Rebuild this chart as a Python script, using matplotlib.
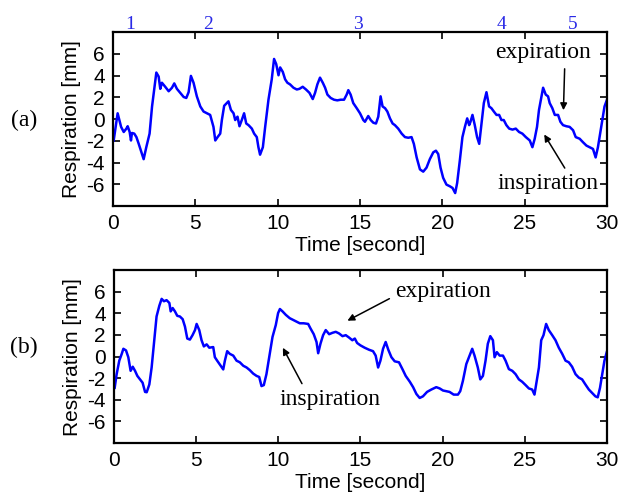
import matplotlib
matplotlib.use('Agg')
import matplotlib.pyplot as plt

plt.rcParams['axes.unicode_minus'] = False
plt.rcParams['font.family'] = ['Liberation Sans', 'DejaVu Sans']

# panel (a)
t_a = [0.04, 0.28, 0.49, 0.65, 0.81, 0.89, 1.01, 1.09, 1.15, 1.29, 1.42, 1.56, 1.76, 1.86,
       2.02, 2.22, 2.37, 2.51, 2.63, 2.77, 2.87, 2.97, 3.17, 3.38, 3.58, 3.72, 3.88, 4.08,
       4.29, 4.45, 4.59, 4.73, 4.89, 5.09, 5.30, 5.50, 5.70, 5.90, 6.10, 6.21, 6.35, 6.51,
       6.61, 6.75, 6.91, 7.01, 7.16, 7.32, 7.42, 7.56, 7.68, 7.82, 7.96, 8.09, 8.23, 8.43,
       8.57, 8.73, 8.83, 8.93, 9.10, 9.24, 9.44, 9.64, 9.78, 9.91, 10.05, 10.15, 10.31,
       10.45, 10.59, 10.75, 10.96, 11.16, 11.32, 11.52, 11.72, 11.93, 12.13, 12.27, 12.41,
       12.57, 12.74, 12.88, 13.02, 13.22, 13.42, 13.62, 13.83, 14.03, 14.19, 14.29, 14.43,
       14.59, 14.80, 15.00, 15.20, 15.30, 15.50, 15.65, 15.81, 15.97, 16.11, 16.25, 16.37,
       16.52, 16.66, 16.82, 16.98, 17.12, 17.32, 17.53, 17.73, 17.93, 18.13, 18.27, 18.44,
       18.64, 18.84, 19.04, 19.24, 19.45, 19.61, 19.75, 19.89, 20.05, 20.25, 20.46, 20.62,
       20.78, 20.90, 21.06, 21.22, 21.37, 21.51, 21.63, 21.71, 21.83, 21.97, 22.11, 22.24,
       22.38, 22.52, 22.68, 22.84, 22.98, 23.13, 23.29, 23.45, 23.59, 23.73, 23.89, 24.06,
       24.26, 24.46, 24.66, 24.86, 25.07, 25.31, 25.47, 25.61, 25.75, 25.87, 26.02, 26.12,
       26.28, 26.42, 26.52, 26.68, 26.83, 27.03, 27.17, 27.33, 27.53, 27.73, 27.94, 28.10,
       28.34, 28.54, 28.75, 28.95, 29.15, 29.31, 29.45, 29.65, 29.85, 30.00]
resp_a = [-1.97, 0.53, -0.72, -1.19, -0.88, -0.66, -1.19, -1.97, -1.28, -1.34, -1.66, -2.28,
          -3.22, -3.69, -2.59, -1.34, 1.16, 2.88, 4.28, 3.91, 2.78, 3.34, 2.97, 2.56, 2.88,
          3.28, 2.78, 2.41, 2.03, 1.94, 2.47, 3.97, 3.34, 2.09, 1.16, 0.69, 0.53, 0.38,
          -0.72, -1.97, -1.66, -1.34, -0.09, 1.22, 1.47, 1.63, 0.84, 0.53, -0.09, 0.22,
          -0.66, -0.09, 0.53, -0.41, -0.56, -0.88, -1.34, -1.66, -2.59, -3.28, -2.59, -0.72,
          1.78, 3.66, 5.53, 5.06, 4.03, 4.75, 4.34, 3.66, 3.34, 3.19, 2.88, 2.72, 2.78,
          2.97, 2.72, 2.41, 1.84, 2.41, 3.19, 3.81, 3.34, 2.88, 2.25, 1.94, 1.78, 1.72, 1.78,
          1.78, 2.25, 2.66, 2.25, 1.47, 1.00, 0.53, -0.09, -0.25, 0.28, -0.09, -0.34, -0.41,
          0.22, 2.09, 1.16, 1.00, 0.69, 0.06, -0.41, -0.56, -0.88, -1.34, -1.66, -1.72, -1.66,
          -2.28, -3.53, -4.63, -4.84, -4.47, -3.69, -3.06, -2.91, -3.22, -4.47, -5.41, -6.03,
          -6.19, -6.34, -6.81, -5.88, -3.84, -1.66, -0.72, 0.06, -0.56, -0.25, 0.38, -0.56,
          -1.66, -2.28, -0.41, 1.47, 2.47, 1.16, 1.00, 0.69, 0.38, 0.38, -0.09, -0.09, -0.56,
          -0.88, -0.97, -0.88, -1.19, -1.34, -1.66, -1.97, -2.59, -1.81, -0.72, 0.84, 2.09,
          2.88, 2.25, 2.09, 1.47, 1.00, 0.38, 0.38, -0.25, -0.56, -0.66, -0.72, -1.03, -1.66,
          -1.81, -2.13, -2.44, -2.59, -2.75, -3.53, -2.59, -0.72, 1.16, 1.78]

# panel (b)
t_b = [0.04, 0.16, 0.32, 0.47, 0.57, 0.73, 0.87, 1.01, 1.14, 1.28, 1.42, 1.58, 1.74, 1.89,
       1.99, 2.15, 2.29, 2.43, 2.59, 2.76, 2.90, 3.04, 3.20, 3.37, 3.45, 3.57, 3.71, 3.85,
       4.01, 4.18, 4.32, 4.46, 4.62, 4.78, 4.93, 5.03, 5.19, 5.33, 5.47, 5.64, 5.80, 6.04,
       6.14, 6.28, 6.45, 6.65, 6.75, 6.89, 7.05, 7.26, 7.46, 7.66, 7.87, 8.07, 8.27, 8.47,
       8.68, 8.84, 8.98, 9.12, 9.28, 9.45, 9.65, 9.85, 9.99, 10.10, 10.26, 10.46, 10.70,
       10.91, 11.11, 11.31, 11.55, 11.82, 11.96, 12.16, 12.33, 12.43, 12.57, 12.73, 12.89,
       13.10, 13.30, 13.50, 13.70, 13.91, 14.11, 14.31, 14.51, 14.66, 14.80, 15.00, 15.26,
       15.53, 15.77, 15.93, 16.08, 16.22, 16.38, 16.54, 16.70, 16.89, 17.09, 17.35, 17.56,
       17.76, 18.01, 18.21, 18.41, 18.61, 18.81, 19.06, 19.32, 19.62, 19.83, 20.03, 20.23,
       20.43, 20.68, 20.94, 21.08, 21.24, 21.45, 21.65, 21.81, 21.95, 22.15, 22.30, 22.46,
       22.62, 22.76, 22.91, 23.07, 23.17, 23.31, 23.48, 23.68, 23.84, 24.04, 24.25, 24.45,
       24.65, 24.85, 25.06, 25.26, 25.46, 25.60, 25.70, 25.87, 26.01, 26.15, 26.31, 26.47,
       26.68, 26.88, 27.08, 27.29, 27.49, 27.69, 27.89, 28.10, 28.30, 28.50, 28.70, 28.91,
       29.11, 29.31, 29.45, 29.59, 29.76, 29.86, 30.00]
resp_b = [-2.89, -1.63, -0.38, 0.25, 0.72, 0.57, -0.06, -1.32, -0.94, -1.32, -1.79, -2.11,
          -2.42, -3.27, -3.30, -2.58, -1.01, 1.19, 3.71, 4.71, 5.34, 5.12, 5.22, 4.96, 4.18,
          4.49, 4.18, 3.77, 3.71, 3.46, 2.77, 1.67, 1.57, 1.98, 2.45, 3.02, 2.45, 1.51, 0.94,
          1.13, 0.82, 0.88, -0.06, -0.38, -0.75, -1.19, -0.38, 0.50, 0.25, 0.09, -0.38, -0.53,
          -0.85, -1.01, -1.26, -1.57, -1.79, -1.89, -2.73, -2.64, -1.63, -0.06, 1.82, 2.92,
          4.02, 4.40, 4.18, 3.86, 3.55, 3.39, 3.24, 3.08, 3.08, 3.02, 2.61, 2.07, 1.35, 0.31,
          1.19, 1.98, 2.45, 2.07, 2.20, 2.29, 2.14, 1.89, 1.98, 1.76, 1.51, 1.67, 1.26, 1.04,
          0.82, 0.63, 0.50, 0.09, -1.01, -0.38, 0.72, 1.35, 0.63, -0.06, -0.44, -0.53, -1.16,
          -1.79, -2.33, -2.83, -3.46, -3.83, -3.68, -3.27, -3.05, -2.83, -2.95, -3.14, -3.20,
          -3.27, -3.52, -3.52, -3.20, -2.26, -0.69, 0.09, 0.72, 0.09, -1.01, -2.11, -1.79,
          -0.38, 1.19, 1.89, 1.51, -0.06, 0.41, 0.09, 0.09, -0.38, -1.16, -1.32, -1.63, -2.11,
          -2.33, -2.64, -2.95, -3.05, -3.52, -2.58, -1.01, 1.51, 1.98, 3.02, 2.45, 1.98, 1.51,
          0.82, 0.25, -0.38, -0.53, -0.94, -1.63, -1.95, -2.11, -2.58, -3.05, -3.36, -3.68,
          -3.77, -2.89, -1.32, -0.38, 0.41]

cycle_labels = ['1', '2', '3', '4', '5']
cycle_pos = [1.03, 5.77, 14.9, 23.6, 27.9]

fig = plt.figure(figsize=(6.19, 4.94), dpi=100)
ax1 = fig.add_axes([0.1826, 0.583, 0.798, 0.352])
ax2 = fig.add_axes([0.1842, 0.1032, 0.796, 0.350])

for ax, t, r in [(ax1, t_a, resp_a), (ax2, t_b, resp_b)]:
    ax.plot(t, r, color='#0000ff', linewidth=1.8)
    ax.set_xlim(0, 30)
    ax.set_ylim(-8, 8)
    ax.set_xticks(range(0, 31, 5))
    ax.set_yticks(range(-6, 7, 2))
    ax.tick_params(direction='in', top=True, right=True, labelsize=15,
                   length=5, width=1.2, pad=6)
    for s in ax.spines.values():
        s.set_linewidth(1.6)
    ax.set_xlabel('Time [second]', fontsize=15, labelpad=2)
    ax.set_ylabel('Respiration [mm]', fontsize=15, labelpad=4)

serif = ['Liberation Serif', 'DejaVu Serif']
for lab, p in zip(cycle_labels, cycle_pos):
    ax1.text(p, 8.3, lab, color='#2a2ae6', fontsize=14, family=serif,
             ha='center', va='baseline')

arr = dict(arrowstyle='-|>', color='black', lw=1.1, mutation_scale=10)
ax1.annotate('expiration', xy=(27.35, 0.56), xytext=(26.1, 6.1), fontsize=17,
             family=serif, ha='center', va='center',
             arrowprops=dict(arr, relpos=(0.73, 0.0)))
ax1.annotate('inspiration', xy=(26.1, -1.2), xytext=(26.4, -5.95), fontsize=17,
             family=serif, ha='center', va='center',
             arrowprops=dict(arr, relpos=(0.7, 1.0)))
ax2.annotate('expiration', xy=(14.06, 3.2), xytext=(20.0, 6.0), fontsize=17,
             family=serif, ha='center', va='center',
             arrowprops=dict(arr, relpos=(0.0, 0.3)))
ax2.annotate('inspiration', xy=(10.2, 1.04), xytext=(13.15, -3.96), fontsize=17,
             family=serif, ha='center', va='center',
             arrowprops=dict(arr, relpos=(0.25, 1.0)))

fig.text(24 / 619, 1 - 120 / 494, '(a)', fontsize=17, family=serif,
         ha='center', va='center')
fig.text(24 / 619, 1 - 347 / 494, '(b)', fontsize=17, family=serif,
         ha='center', va='center')

fig.savefig('out.png', dpi=100)
